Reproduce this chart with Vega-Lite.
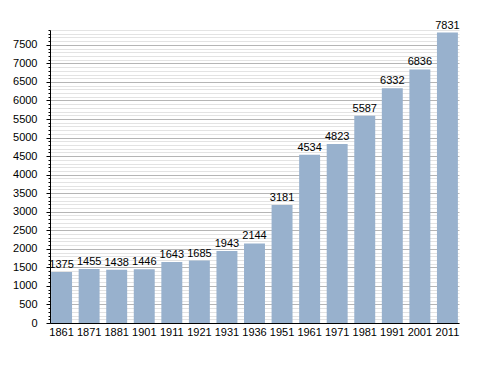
{
  "$schema": "https://vega.github.io/schema/vega-lite/v6.json",
  "autosize": "none",
  "width": 409,
  "height": 293,
  "padding": {"left": 50, "top": 30, "right": 29, "bottom": 50},
  "config": {
    "font": "Liberation Sans",
    "view": {"stroke": null},
    "axis": {"labelFont": "Liberation Sans", "labelFontSize": 11, "labelColor": "#000"}
  },
  "data": {
    "values": [
      {"year": "1861", "pop": 1375},
      {"year": "1871", "pop": 1455},
      {"year": "1881", "pop": 1438},
      {"year": "1901", "pop": 1446},
      {"year": "1911", "pop": 1643},
      {"year": "1921", "pop": 1685},
      {"year": "1931", "pop": 1943},
      {"year": "1936", "pop": 2144},
      {"year": "1951", "pop": 3181},
      {"year": "1961", "pop": 4534},
      {"year": "1971", "pop": 4823},
      {"year": "1981", "pop": 5587},
      {"year": "1991", "pop": 6332},
      {"year": "2001", "pop": 6836},
      {"year": "2011", "pop": 7831}
    ]
  },
  "encoding": {
    "x": {
      "field": "year", "type": "ordinal", "sort": null,
      "scale": {"paddingInner": 0.24, "paddingOuter": 0.04},
      "axis": {"title": null, "labelAngle": 0, "tickSize": 0, "labelPadding": 3, "domainColor": "#000", "domainWidth": 1, "zindex": 1}
    }
  },
  "layer": [
    {
      "mark": {"type": "bar", "color": "#98b1cd"},
      "encoding": {
        "y": {
          "field": "pop", "type": "quantitative",
          "scale": {"domain": [0, 7900], "nice": false},
          "axis": {
            "title": null,
            "format": "d",
            "values": [0, 500, 1000, 1500, 2000, 2500, 3000, 3500, 4000, 4500, 5000, 5500, 6000, 6500, 7000, 7500],
            "orient": "left",
            "tickSize": 4, "tickColor": "#000",
            "labelPadding": 9,
            "domainColor": "#000",
            "gridColor": "#b5b5b5", "grid": true, "gridWidth": 1,
            "zindex": 0
          }
        }
      }
    },
    {
      "mark": {"type": "text", "baseline": "bottom", "dy": -2, "fontSize": 11, "color": "#000"},
      "encoding": {
        "y": {
          "field": "pop", "type": "quantitative",
          "axis": {
            "title": null,
            "orient": "left",
            "values": [100,200,300,400,600,700,800,900,1100,1200,1300,1400,1600,1700,1800,1900,2100,2200,2300,2400,2600,2700,2800,2900,3100,3200,3300,3400,3600,3700,3800,3900,4100,4200,4300,4400,4600,4700,4800,4900,5100,5200,5300,5400,5600,5700,5800,5900,6100,6200,6300,6400,6600,6700,6800,6900,7100,7200,7300,7400,7600,7700,7800,7900],
            "labels": false,
            "tickSize": 2, "tickColor": "#000",
            "domain": false,
            "grid": true, "gridColor": "#e3e3e3", "gridWidth": 1,
            "zindex": 0
          }
        },
        "text": {"field": "pop", "type": "quantitative", "format": "d"}
      }
    }
  ],
  "resolve": {"axis": {"y": "independent"}}
}
